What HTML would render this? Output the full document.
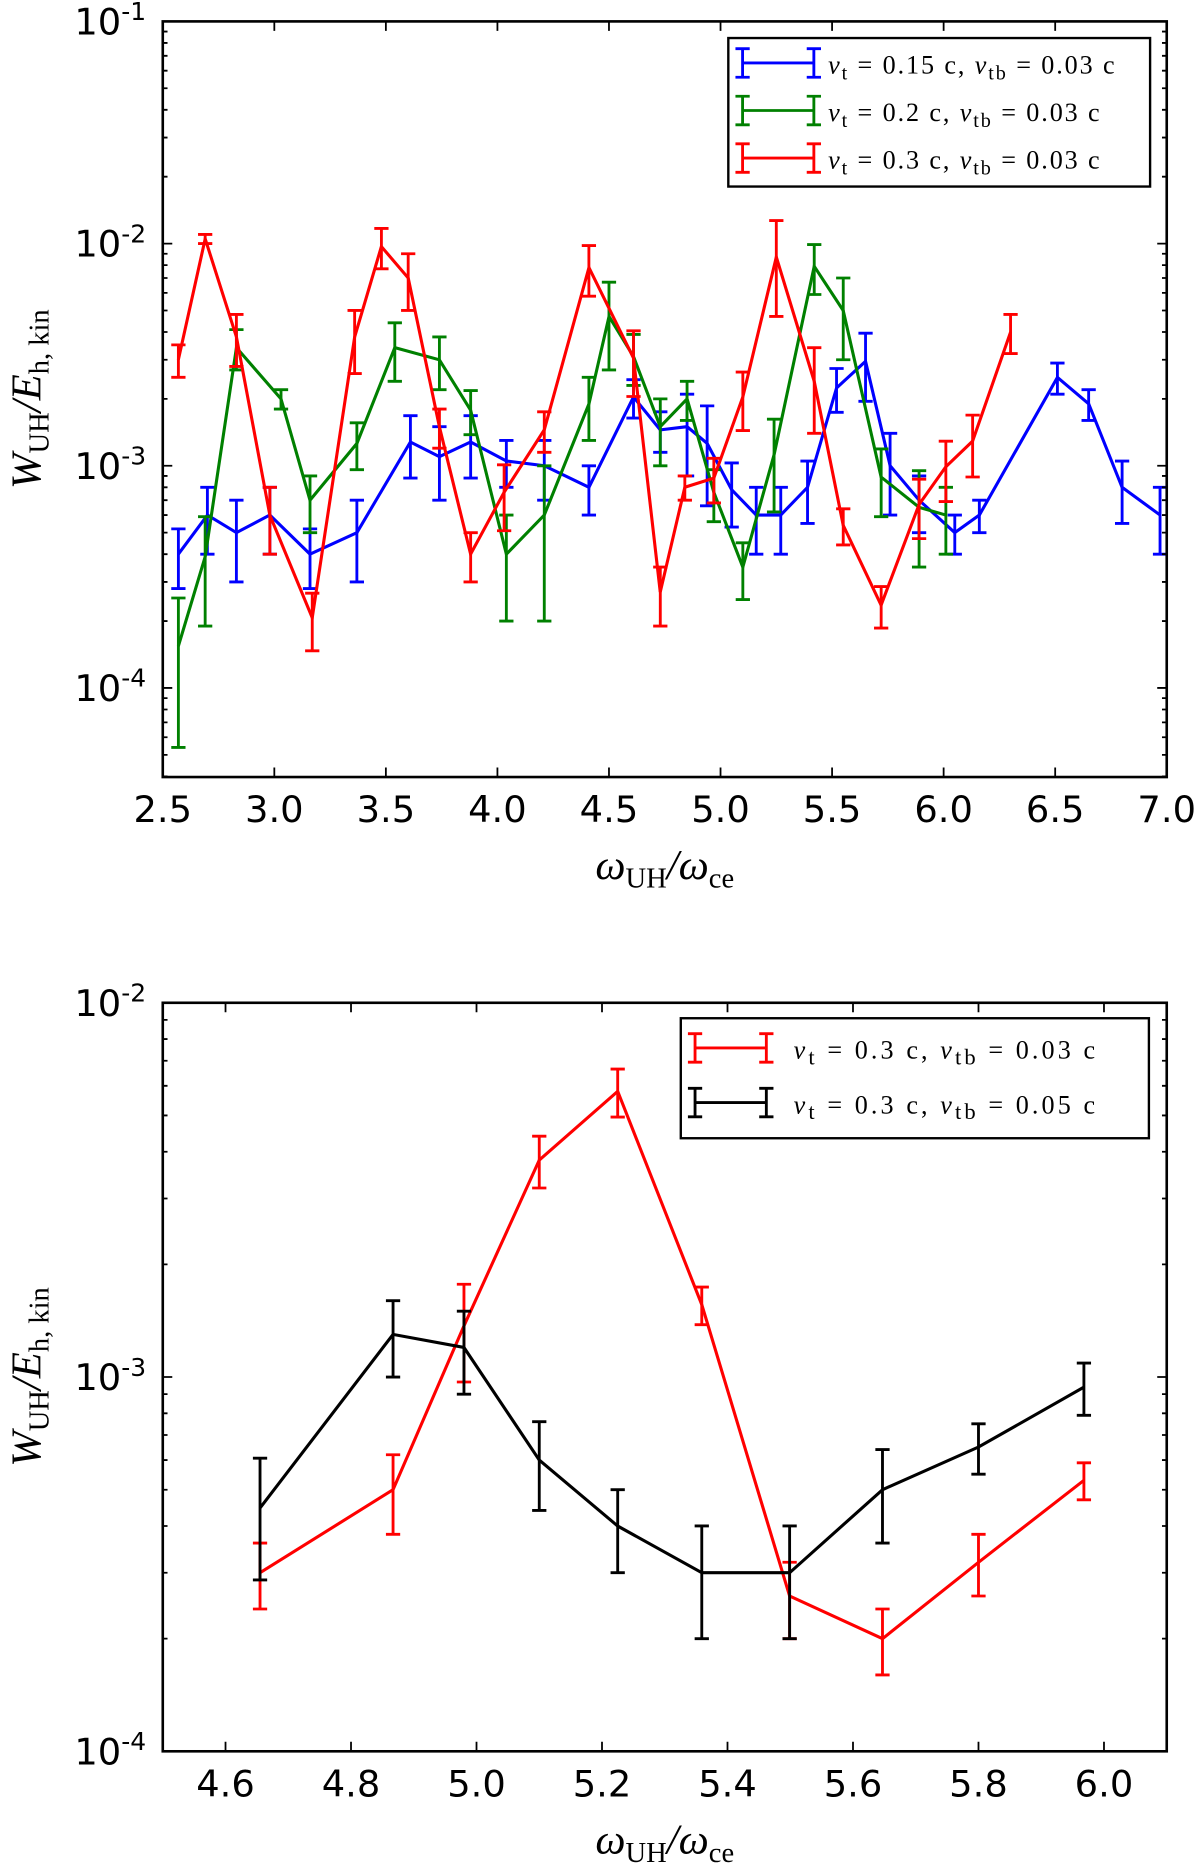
<!DOCTYPE html>
<html><head><meta charset="utf-8"><style>
html,body{margin:0;padding:0;background:#fff}
svg{display:block}
.tk{font-family:"DejaVu Sans","Liberation Sans",sans-serif;font-size:31px;fill:#000}
.lab{font-family:"Liberation Serif",serif;font-style:italic;font-size:36px;fill:#000}
.leg{font-family:"Liberation Serif",serif;font-style:italic;font-size:22px;fill:#000}
</style></head><body>
<svg id="fig" width="1200" height="1863" viewBox="0 0 1010 1568" xmlns="http://www.w3.org/2000/svg"></svg>
<script>
// ---- top panel data ----
const blueX=[2.57,2.70,2.83,2.98,3.16,3.37,3.61,3.74,3.88,4.04,4.21,4.41,4.61,4.73,4.85,4.94,5.05,5.16,5.27,5.39,5.52,5.65,5.76,5.89,6.05,6.16,6.51,6.65,6.80,6.97];
const blueY=[4e-4,6e-4,5e-4,6e-4,4e-4,5e-4,1.28e-3,1.1e-3,1.28e-3,1.05e-3,1.0e-3,8e-4,2.04e-3,1.45e-3,1.5e-3,1.26e-3,7.8e-4,6e-4,6e-4,8e-4,2.24e-3,2.95e-3,1.0e-3,7e-4,5e-4,6e-4,2.5e-3,1.9e-3,8e-4,6e-4];
const blueE=[1.2e-4,2e-4,2e-4,2e-4,1.2e-4,2e-4,4e-4,4e-4,4e-4,2.5e-4,3e-4,2e-4,4e-4,3e-4,6e-4,6e-4,2.5e-4,2e-4,2e-4,2.5e-4,5e-4,1e-3,4e-4,2e-4,1e-4,1e-4,4e-4,3e-4,2.5e-4,2e-4];
const greenX=[2.57,2.69,2.83,3.03,3.16,3.37,3.54,3.74,3.88,4.04,4.21,4.41,4.50,4.61,4.73,4.85,4.97,5.10,5.24,5.42,5.55,5.72,5.89,6.01];
const greenY=[1.54e-4,3.9e-4,3.4e-3,2.0e-3,7e-4,1.26e-3,3.4e-3,3.0e-3,1.78e-3,4e-4,6e-4,1.9e-3,4.7e-3,3.1e-3,1.5e-3,2.0e-3,7.6e-4,3.5e-4,1.12e-3,7.9e-3,5e-3,8.9e-4,6.5e-4,6e-4];
const greenE=[1e-4,2e-4,7e-4,2e-4,2e-4,3e-4,1e-3,8e-4,4e-4,2e-4,4e-4,6e-4,2e-3,8e-4,5e-4,4e-4,2e-4,1e-4,5e-4,2e-3,2e-3,3e-4,3e-4,2e-4];
const redX=[2.57,2.69,2.83,2.98,3.17,3.36,3.48,3.60,3.74,3.88,4.03,4.21,4.41,4.61,4.73,4.84,4.97,5.10,5.25,5.42,5.55,5.72,5.89,6.01,6.13,6.30];
const redY=[3.0e-3,1.05e-2,3.8e-3,6e-4,2.07e-4,3.8e-3,9.7e-3,7e-3,1.5e-3,4e-4,7.6e-4,1.45e-3,7.8e-3,3.05e-3,2.7e-4,8e-4,8.8e-4,2.04e-3,8.7e-3,2.4e-3,5.4e-4,2.36e-4,6.7e-4,9.9e-4,1.29e-3,4e-3];
const redE=[5e-4,5e-4,1e-3,2e-4,6e-5,1.2e-3,2e-3,2e-3,3e-4,1e-4,2.5e-4,3e-4,2e-3,1e-3,8e-5,1e-4,2e-4,6e-4,4e-3,1e-3,1e-4,5e-5,2e-4,3e-4,4e-4,8e-4];
const topXTicks=[2.5,3.0,3.5,4.0,4.5,5.0,5.5,6.0,6.5,7.0];
const topXLabels=["2.5","3.0","3.5","4.0","4.5","5.0","5.5","6.0","6.5","7.0"];
const topYExp=[-1,-2,-3,-4];
// ---- bottom panel data ----
const botX=[4.655,4.867,4.98,5.10,5.225,5.359,5.499,5.647,5.80,5.968];
const botRedY=[3.0e-4,5.0e-4,1.37e-3,3.8e-3,5.8e-3,1.56e-3,2.6e-4,2.0e-4,3.2e-4,5.3e-4];
const botRedE=[6e-5,1.2e-4,4e-4,6e-4,8.5e-4,1.8e-4,6e-5,4e-5,6e-5,6e-5];
const botBlkY=[4.47e-4,1.3e-3,1.2e-3,6e-4,4e-4,3e-4,3e-4,5e-4,6.5e-4,9.4e-4];
const botBlkE=[1.6e-4,3e-4,3e-4,1.6e-4,1e-4,1e-4,1e-4,1.4e-4,1e-4,1.5e-4];
const botXTicks=[4.6,4.8,5.0,5.2,5.4,5.6,5.8,6.0];
const botXLabels=["4.6","4.8","5.0","5.2","5.4","5.6","5.8","6.0"];
const botYExp=[-2,-3,-4];

const NS="http://www.w3.org/2000/svg";
const svg=document.getElementById('fig');
function mk(tag,attrs,parent){const e=document.createElementNS(NS,tag);for(const k in attrs)e.setAttribute(k,attrs[k]);(parent||svg).appendChild(e);return e;}

function panel(p){
  const g=mk('g',{});
  
  
  const L=p.x0,R=p.x1,T=p.y0,B=p.y1;
  const sx=v=>L+(v-p.xmin)/(p.xmax-p.xmin)*(R-L);
  const lt=Math.log10(p.ymax),lb=Math.log10(p.ymin);
  const sy=v=>T+(lt-Math.log10(Math.max(v,1e-9)))/(lt-lb)*(B-T);
  p.series.forEach(s=>{
    const sg=mk('g',{},g);
    
    
    let d='';
    s.x.forEach((xv,i)=>{d+=(i?'L':'M')+sx(xv).toFixed(1)+','+sy(s.y[i]).toFixed(1);});
    const ln=mk('path',{d:d,fill:'none',stroke:s.color,'stroke-width':2.6,'stroke-linejoin':'miter'},sg);
    
    
    s.x.forEach((xv,i)=>{
      const X=sx(xv),y1=sy(s.y[i]+s.e[i]),y2=sy(s.y[i]-s.e[i]);
      const eb=mk('path',{d:`M${X},${y1}L${X},${y2}M${X-6},${y1}L${X+6},${y1}M${X-6},${y2}L${X+6},${y2}`,stroke:s.color,'stroke-width':2.4,fill:'none'},sg);
      
      
    });
  });
  const fr=mk('rect',{x:L,y:T,width:R-L,height:B-T,fill:'none',stroke:'#000','stroke-width':2.2},g);
  
  
  p.xt.forEach((t,i)=>{
    const X=sx(t);
    mk('path',{d:`M${X},${B}L${X},${B-8}M${X},${T}L${X},${T+8}`,stroke:'#000','stroke-width':1.5},g);
    const tx=mk('text',{x:X,y:B+38,'text-anchor':'middle',class:'tk'},g);
    tx.textContent=p.xl[i];
    
    
  });
  for(let e=Math.floor(lb);e<=Math.ceil(lt);e++){
    for(let m=1;m<10;m++){
      const v=m*Math.pow(10,e);
      if(v<p.ymin*0.999||v>p.ymax*1.001)continue;
      const Y=sy(v),len=m==1?8:4;
      mk('path',{d:`M${L},${Y}L${L+len},${Y}M${R},${Y}L${R-len},${Y}`,stroke:'#000','stroke-width':1.5},g);
    }
  }
  p.ye.forEach(e=>{
    const Y=sy(Math.pow(10,e));
    const tx=mk('text',{x:L-14,y:Y+11,'text-anchor':'end',class:'tk'},g);
    
    
    const a=mk('tspan',{},tx);a.textContent='10';
    const b=mk('tspan',{dy:-12,'font-size':21},tx);b.textContent=String(e);
  });
  const xl=mk('text',{x:(L+R)/2,y:B+86,'text-anchor':'middle',class:'lab'},g);
  
  
  xl.innerHTML='ω<tspan dy="7" font-size="24" font-style="normal">UH</tspan><tspan dy="-7">/ω</tspan><tspan dy="7" font-size="24" font-style="normal">ce</tspan>';
  const cy=(T+B)/2;
  const yl=mk('text',{x:0,y:0,'text-anchor':'middle',class:'lab',transform:`translate(34,${cy}) rotate(-90)`},g);
  
  
  yl.innerHTML='W<tspan dy="7" font-size="24" font-style="normal">UH</tspan><tspan dy="-7">/E</tspan><tspan dy="7" font-size="24" font-style="normal">h, kin</tspan>';
  const lg=mk('g',{},g);
  
  
  mk('rect',{x:p.lg.x,y:p.lg.y,width:p.lg.w,height:p.lg.h,fill:'#fff',stroke:'#000','stroke-width':2},lg);
  p.series.forEach((s,i)=>{
    const Y=p.lg.y+p.lg.r0+i*p.lg.dy,X0=p.lg.x+12,X1=X0+60;
    const en=mk('g',{},lg);
    
    
    mk('path',{d:`M${X0},${Y}L${X1},${Y}M${X0},${Y-12}L${X0},${Y+12}M${X1},${Y-12}L${X1},${Y+12}M${X0-6},${Y-12}L${X0+6},${Y-12}M${X0-6},${Y+12}L${X0+6},${Y+12}M${X1-6},${Y-12}L${X1+6},${Y-12}M${X1-6},${Y+12}L${X1+6},${Y+12}`,stroke:s.color,'stroke-width':2.4,fill:'none'},en);
    const t=mk('text',{x:p.lg.tx,y:Y+9,class:'leg','font-size':p.lg.fs,'letter-spacing':p.lg.ls},en);
    t.innerHTML='v<tspan dy="5" font-size="'+(p.lg.fs*0.68)+'" font-style="normal">t</tspan><tspan dy="-5" font-style="normal"> = '+s.vt+' c, </tspan>v<tspan dy="5" font-size="'+(p.lg.fs*0.68)+'" font-style="normal">tb</tspan><tspan dy="-5" font-style="normal"> = '+s.vtb+' c</tspan>';
  });
}

panel({name:'top-panel',x0:137,x1:982,y0:18,y1:654,xmin:2.5,xmax:7.0,ymin:Math.pow(10,-4.401),ymax:0.1,
  xt:topXTicks,xl:topXLabels,ye:topYExp,
  lg:{x:613,y:32,w:355,h:125,r0:21,dy:40,tx:697,fs:25,ls:1.6},
  series:[
    {name:'series-vt015',color:'#0000ff',x:blueX,y:blueY,e:blueE,vt:'0.15',vtb:'0.03'},
    {name:'series-vt02',color:'#008000',x:greenX,y:greenY,e:greenE,vt:'0.2',vtb:'0.03'},
    {name:'series-vt03',color:'#ff0000',x:redX,y:redY,e:redE,vt:'0.3',vtb:'0.03'}]});
panel({name:'bottom-panel',x0:137,x1:982,y0:844,y1:1474,xmin:4.5,xmax:6.1,ymin:1e-4,ymax:1e-2,
  xt:botXTicks,xl:botXLabels,ye:botYExp,
  lg:{x:573,y:857,w:394,h:101,r0:25,dy:46,tx:668,fs:28,ls:2.6},
  series:[
    {name:'series-vtb003',color:'#ff0000',x:botX,y:botRedY,e:botRedE,vt:'0.3',vtb:'0.03'},
    {name:'series-vtb005',color:'#000000',x:botX,y:botBlkY,e:botBlkE,vt:'0.3',vtb:'0.05'}]});
</script>
</body></html>
